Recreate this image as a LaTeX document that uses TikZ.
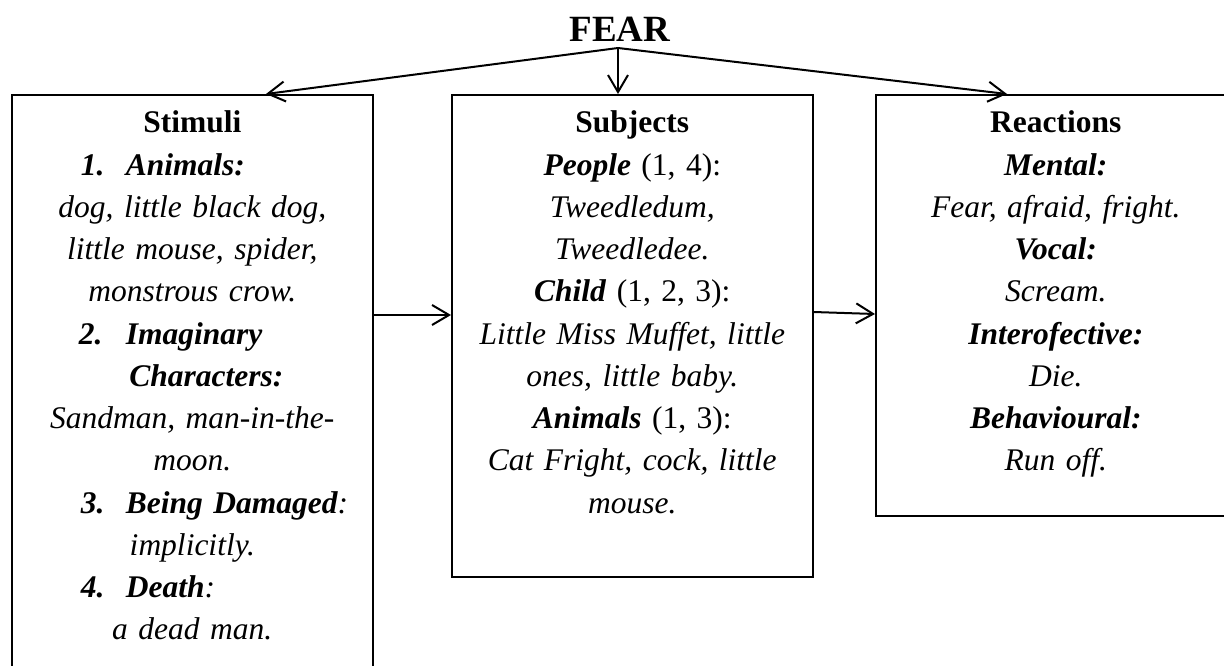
\documentclass[tikz,border=0pt]{standalone}
\usepackage{fontspec}
\setmainfont{Liberation Serif}
\usetikzlibrary{arrows.meta,calc}
\newcommand{\kw}[1]{\textbf{#1}}
\begin{document}
\begin{tikzpicture}[x=1pt, y=-1pt,
    box/.style={draw, line width=1.6pt, anchor=north west, inner sep=0pt},
    txt/.style={text width=361pt, align=center, anchor=base, inner sep=0pt,
        font=\fontsize{31.5}{42.25}\selectfont\itshape},
    arr/.style={line width=2pt, -{Straight Barb[length=17pt,width=20pt]}}]
    \clip (0,0) rectangle (1224,666);
    % Título
    \node[font=\fontsize{37}{44}\selectfont\bfseries, anchor=base] (fear) at (620,42) {FEAR};
    \coordinate (apex) at (618,48);

    % Caixas
    \node[box, minimum width=361pt, minimum height=640pt] (stimuli) at (11,94) {};
    \node[box, minimum width=361pt, minimum height=482pt] (subjects) at (451,94) {};
    \node[box, minimum width=360pt, minimum height=421pt] (reactions) at (875,94) {};

    % Textos
    \node[txt] (stimuliText) at ([yshift=-39pt]stimuli.north) {\textup{\kw{Stimuli}}\\
        \makebox[223pt][l]{\makebox[45pt][l]{\kw{1.}}\kw{Animals:}}\\
        dog, little black dog,\\
        little mouse, spider,\\
        monstrous crow.\\
        \makebox[227pt][l]{\makebox[47pt][l]{\kw{2.}}\kw{Imaginary}}\\
        \makebox[126pt][l]{\kw{Characters:}}\\
        Sandman, man-in-the-\\
        moon.\\
        \makebox[223pt][l]{\makebox[45pt][l]{\kw{3.}}\kw{Being Damaged}:}\\
        implicitly.\\
        \makebox[223pt][l]{\makebox[45pt][l]{\kw{4.}}\kw{Death}:}\\
        a dead man.};
    \node[txt] (subjectsText) at ([yshift=-39pt]subjects.north) {\textup{\kw{Subjects}}\\
        \kw{People} \textup{(1, 4):}\\
        Tweedledum,\\
        Tweedledee.\\
        \kw{Child} \textup{(1, 2, 3):}\\
        Little Miss Muffet, little\\
        ones, little baby.\\
        \kw{Animals} \textup{(1, 3):}\\
        Cat Fright, cock, little\\
        mouse.};
    \node[txt] (reactionsText) at ([yshift=-39pt]reactions.north) {\textup{\kw{Reactions}}\\
        \kw{Mental:}\\
        Fear, afraid, fright.\\
        \kw{Vocal:}\\
        Scream.\\
        \kw{Interofective:}\\
        Die.\\
        \kw{Behavioural:}\\
        Run off.};

    % Setas
    \draw[arr] (apex) -- ($(stimuli.north west)+(255,0)$);
    \draw[arr] (apex) -- (apex |- subjects.north);
    \draw[arr] (apex) -- ($(reactions.north west)+(132,0)$);
    \draw[arr] ($(stimuli.north east)+(0,221)$) -- ($(subjects.north west)+(0,221)$);
    \draw[arr] ($(subjects.north east)+(0,218)$) -- ($(reactions.north west)+(0,220)$);
\end{tikzpicture}
\end{document}
